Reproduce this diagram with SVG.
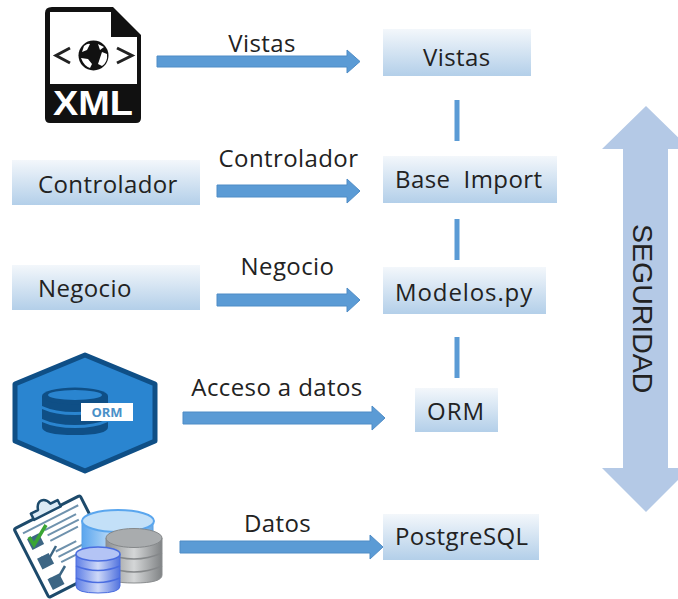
<svg xmlns="http://www.w3.org/2000/svg" width="678" height="599" viewBox="0 0 678 599">
<style>
.t{font-family:"Open Sans","Noto Sans","Liberation Sans",sans-serif;font-size:24px;letter-spacing:.4px;fill:#222}
.l{font-family:"Open Sans","Noto Sans","Liberation Sans",sans-serif;font-size:24px;letter-spacing:.4px;fill:#222;text-anchor:middle}
.box{fill:url(#g)}
.arr{fill:#5b9bd5;stroke:#4f8cc6;stroke-width:1}
.bar{fill:#5b9bd5}
.cl{fill:none;stroke:#6f92ad;stroke-width:2}
.ck{fill:none;stroke:#3d6684;stroke-width:2.500}
</style>
<defs>
<linearGradient id="g" x1="0" y1="0" x2="0" y2="1"><stop offset="0" stop-color="#f3f7fb"/><stop offset="1" stop-color="#b3cfe9"/></linearGradient>
<linearGradient id="cb" x1="0" y1="0" x2="1" y2="0"><stop offset="0" stop-color="#5aa5ee"/><stop offset=".5" stop-color="#cfe6fa"/><stop offset="1" stop-color="#6aa9e4"/></linearGradient>
<linearGradient id="cg" x1="0" y1="0" x2="1" y2="0"><stop offset="0" stop-color="#8d9092"/><stop offset=".5" stop-color="#d4d6d7"/><stop offset="1" stop-color="#808385"/></linearGradient>
<linearGradient id="cv" x1="0" y1="0" x2="1" y2="0"><stop offset="0" stop-color="#5f7fe6"/><stop offset=".5" stop-color="#cdd8f8"/><stop offset="1" stop-color="#5273de"/></linearGradient>
</defs>

<g id="connectors">
<path class="arr" d="M157 56H347V50L360 61.500L347 73V67H157Z"/>
<path class="arr" d="M217 185H347V179L360 191L347 203V197H217Z"/>
<path class="arr" d="M217 294H347V288L360 300L347 312V306H217Z"/>
<path class="arr" d="M183 412H372V406L385 418L372 430V424H183Z"/>
<path class="arr" d="M180 541H370V535L383 547L370 559V553H180Z"/>
<rect class="bar" x="454.500" y="100" width="5" height="41"/>
<rect class="bar" x="454.500" y="219" width="5" height="41"/>
<rect class="bar" x="454.500" y="337" width="5" height="41"/>
<text class="l" x="262" y="52">Vistas</text>
<text class="l" x="288.500" y="167">Controlador</text>
<text class="l" x="287.500" y="275">Negocio</text>
<text class="l" x="277" y="396">Acceso a datos</text>
<text class="l" x="277.500" y="532">Datos</text>
</g>

<g id="node-xml">
<path d="M52 7H113L141 35V118Q141 123 136 123H50Q45 123 45 118V13Q45 7 52 7Z" fill="#111"/>
<path d="M50 12H111V37H137V84H50Z" fill="#fff"/>
<path d="M70 48L56 55.500L70 63M117 48L132 55.500L117 63" fill="none" stroke="#222" stroke-width="3"/>
<circle cx="93.500" cy="55.500" r="15" fill="#111"/>
<path d="M84 46Q88 43 90 44L87 50L82 52ZM81 58L88 59L92 64L90 68Q84 66 81 58ZM98 44L104 47L100 50ZM102 52L107 54Q108 62 102 66L98 64L100 58Z" fill="#fff"/>
<text x="93" y="115" text-anchor="middle" font-family="'Liberation Sans',sans-serif" font-weight="700" font-size="35" fill="#fff" textLength="80" lengthAdjust="spacingAndGlyphs">XML</text>
</g>

<g id="node-vistas"><rect class="box" x="383" y="29" width="148" height="47"/><text class="t" x="423" y="66">Vistas</text></g>
<g id="node-controlador"><rect class="box" x="12" y="160" width="188" height="45"/><text class="t" x="38" y="193">Controlador</text></g>
<g id="node-base"><rect class="box" x="383" y="156" width="174" height="47"/><text class="t" x="395" y="188" xml:space="preserve">Base  Import</text></g>
<g id="node-negocio"><rect class="box" x="12" y="265" width="188" height="45"/><text class="t" x="38" y="297">Negocio</text></g>
<g id="node-modelos"><rect class="box" x="383" y="267" width="163" height="47"/><text class="t" x="395" y="301" style="letter-spacing:.9px">Modelos.py</text></g>
<g id="node-orm"><rect class="box" x="415" y="388" width="83" height="44"/><text class="t" x="427" y="420" style="letter-spacing:1px">ORM</text></g>
<g id="node-postgres"><rect class="box" x="383" y="514" width="156" height="46"/><text class="t" x="395" y="545">PostgreSQL</text></g>

<g id="node-orm-icon">
<path d="M85 355L155 384V441L85 471L15 441V384Z" fill="#2a85d0" stroke="#0f4f86" stroke-width="5" stroke-linejoin="round"/>
<path d="M42 396V427Q42 435 75 435Q108 435 108 427V396Z" fill="#0f4f86"/>
<ellipse cx="75" cy="396" rx="33" ry="8.500" fill="#0f4f86"/>
<ellipse cx="75" cy="395" rx="27" ry="5" fill="#2a85d0"/>
<path d="M42 406Q55 412 75 412Q95 412 108 406V409Q95 415 75 415Q55 415 42 409ZM42 419Q55 425 75 425Q95 425 108 419V422Q95 428 75 428Q55 428 42 422Z" fill="#2a85d0"/>
<rect x="81" y="403" width="52" height="18" fill="#fff"/>
<text x="107" y="417" text-anchor="middle" font-family="'Open Sans','Liberation Sans',sans-serif" font-weight="700" font-size="13" fill="#4a90c8">ORM</text>
</g>

<g id="node-data-icon">
<g transform="translate(14 529) rotate(-27)">
<rect x="0" y="0" width="74" height="77" rx="2" fill="#fff" stroke="#1d4a6b" stroke-width="3"/>
<path d="M22 1V-6H30Q32 -13 37 -13Q42 -13 44 -6H52V1Z" fill="#dcebf5" stroke="#1d4a6b" stroke-width="2.500" stroke-linejoin="round"/>
<path class="cl" d="M6 8H68"/>
<path class="cl" d="M27 15H62M27 21H62M27 27H58M27 39H50M27 45H55M27 51H46"/>
<rect x="7" y="15" width="13" height="12" fill="#3d6684"/>
<rect x="7" y="37" width="13" height="12" fill="#3d6684"/>
<rect x="7" y="60" width="13" height="12" fill="#3d6684"/>
</g>
<path d="M29 537L34 545L46 525" fill="none" stroke="#3aa535" stroke-width="3.500"/>
<path class="ck" d="M41 557L46 564L56 546"/>
<path class="ck" d="M50 578L54 585L65 566"/>
<path d="M82 521V557Q82 567 118 567Q153 567 153 557V521Z" fill="url(#cb)" stroke="#58a0e6"/>
<ellipse cx="118" cy="521" rx="36" ry="11" fill="#c3e0f8" stroke="#5aa6ee" stroke-width="2"/>
<path d="M106 538V575Q106 583 134 583Q162 583 162 575V538Z" fill="url(#cg)" stroke="#8a8d8f"/>
<ellipse cx="134" cy="538" rx="28" ry="9.500" fill="#a9acae" stroke="#85888a"/>
<path d="M106 553Q134 565 162 553M106 566Q134 578 162 566" fill="none" stroke="#85888a" stroke-width="1.500"/>
<path d="M76 554V586Q76 593 98 593Q120 593 120 586V554Z" fill="url(#cv)" stroke="#4a6de0"/>
<ellipse cx="98" cy="554" rx="22" ry="7" fill="#b4c4f5" stroke="#4a6de0" stroke-width="1.500"/>
<path d="M76 566Q98 575 120 566M76 578Q98 587 120 578" fill="none" stroke="#4a6de0" stroke-width="1.500"/>
</g>

<g id="node-seguridad">
<path d="M646 106L690 149H668V468H690L646 512L602 468H623V149H602Z" fill="#b4c9e6"/>
<text transform="translate(633 224) rotate(90)" font-family="'Liberation Sans',sans-serif" font-size="28.500" fill="#222">SEGURIDAD</text>
</g>
</svg>
